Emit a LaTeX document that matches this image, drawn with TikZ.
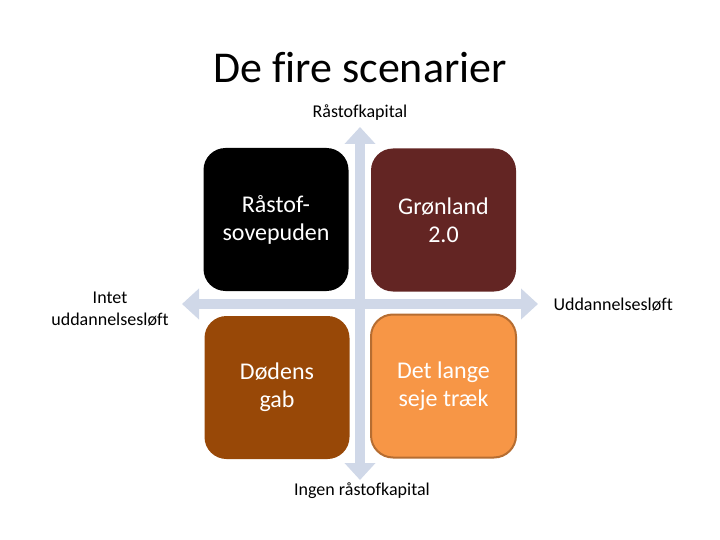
\documentclass[tikz,border=0pt]{standalone}
\usepackage{fontspec}
\setmainfont{Carlito}[Ligatures=NoCommon]
\usepackage{tikz}
\usetikzlibrary{arrows.meta}
\definecolor{axisblue}{RGB}{208,216,232}
\definecolor{greenlandred}{RGB}{99,37,35}
\definecolor{deathbrown}{RGB}{152,72,7}
\definecolor{longorange}{RGB}{247,150,70}
\definecolor{longborder}{RGB}{182,109,49}
\tikzset{
  scenario/.style={rounded corners=22pt, minimum width=145pt, minimum height=143pt, inner sep=0pt,
    text=white, align=center, font=\fontsize{24}{28}\selectfont},
  axislabel/.style={align=center, font=\fontsize{18}{22}\selectfont},
  axis/.style={line width=10pt, draw=axisblue, {Triangle[width=30pt,length=17pt]}-{Triangle[width=30pt,length=17pt]}}
}

\begin{document}
\begin{tikzpicture}[x=1pt, y=-1pt]
\useasboundingbox (0,0) rectangle (720,540);
\node (title) at (360,68) {\fontsize{44}{50}\selectfont De fire scenarier};
\coordinate (top) at (360,127);
\coordinate (bottom) at (360,480);
\coordinate (left) at (182,304);
\coordinate (right) at (538,304);
\draw[axis] (top) -- (bottom);
\draw[axis] (left) -- (right);
\node[scenario, fill=black] (sovepude) at (276,219.5) {Råstof-\\sovepuden};
\node[scenario, fill=greenlandred] (groenland) at (443.5,220) {Grønland\\2.0};
\node[scenario, fill=deathbrown] (doedens) at (277,387.5) {Dødens\\gab};
\node[scenario, fill=longorange, draw=longborder, line width=2pt] (traek) at (443.5,386) {Det lange\\seje træk};
\node[axislabel] (raastof) at (360,113) {Råstofkapital};
\node[axislabel] (ingen) at (362,491) {Ingen råstofkapital};
\node[axislabel] (intet) at (110,309) {Intet\\uddannelsesløft};
\node[axislabel, anchor=west] (uddannelse) at (550,305) {Uddannelsesløft};
\end{tikzpicture}
\end{document}
